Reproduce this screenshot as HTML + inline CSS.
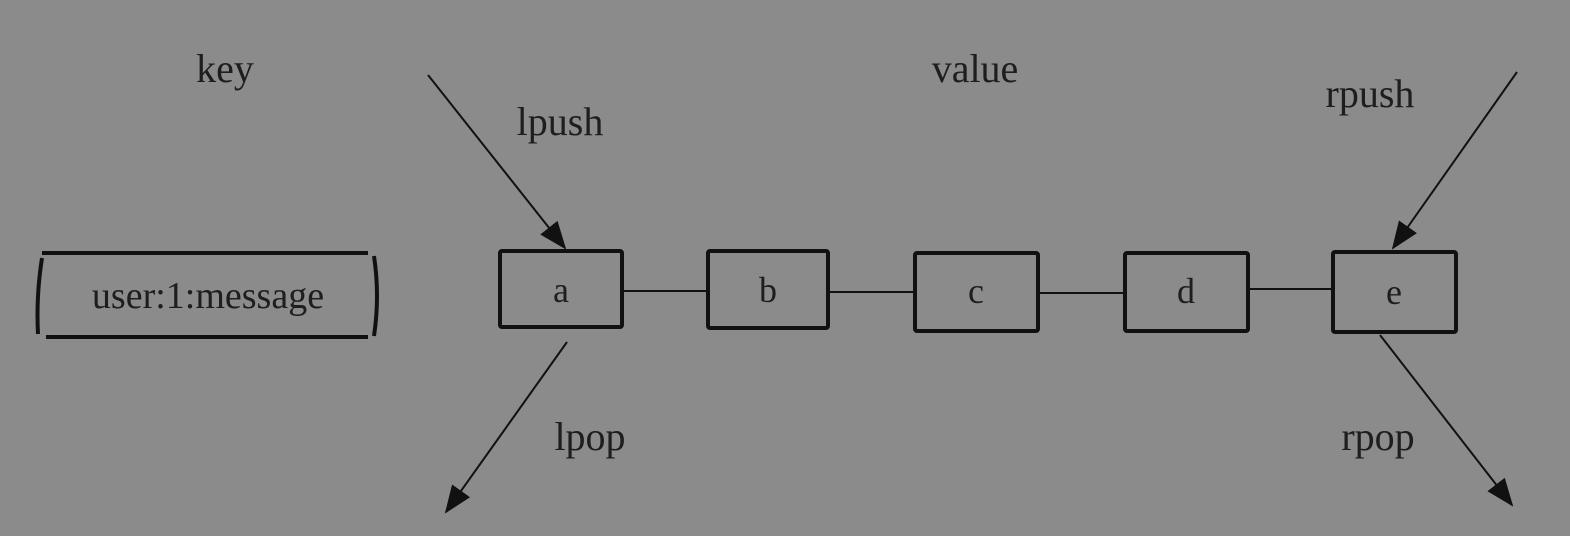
<!DOCTYPE html>
<html><head><meta charset="utf-8"><style>
html,body{margin:0;padding:0;background:#8b8b8b;}
svg{display:block;}
text{font-family:"Liberation Serif",serif;fill:#1e1e1e;}
</style></head><body>
<svg width="1570" height="536" viewBox="0 0 1570 536" xmlns="http://www.w3.org/2000/svg">
<defs>
<marker id="ah" markerWidth="28" markerHeight="22" refX="26" refY="11" orient="auto" markerUnits="userSpaceOnUse" viewBox="0 0 28 22">
<path d="M0,0 L28,11 L0,22 z" fill="#111"/>
</marker>
</defs>
<rect width="1570" height="536" fill="#8b8b8b"/>
<g stroke="#111" fill="none">
<line x1="42" y1="253" x2="368" y2="253" stroke-width="4"/>
<line x1="46" y1="337" x2="368" y2="337" stroke-width="4"/>
<path d="M42,258 Q36,296 38,334" stroke-width="4"/>
<path d="M374,256 Q380,296 374,336" stroke-width="4"/>
<rect x="500" y="251" width="122" height="76" stroke-width="4" rx="2"/>
<rect x="708" y="251" width="120" height="77" stroke-width="4" rx="2"/>
<rect x="915" y="253" width="123" height="78" stroke-width="4" rx="2"/>
<rect x="1125" y="253" width="123" height="78" stroke-width="4" rx="2"/>
<rect x="1333" y="252" width="123" height="80" stroke-width="4" rx="2"/>
<line x1="622" y1="291" x2="708" y2="291" stroke-width="2"/>
<line x1="828" y1="292" x2="915" y2="292" stroke-width="2"/>
<line x1="1038" y1="293" x2="1125" y2="293" stroke-width="2"/>
<line x1="1248" y1="289" x2="1333" y2="289" stroke-width="2"/>
<line x1="428" y1="75" x2="565" y2="248" stroke-width="2" marker-end="url(#ah)"/>
<line x1="1517" y1="72" x2="1393" y2="248" stroke-width="2" marker-end="url(#ah)"/>
<line x1="567" y1="342" x2="446" y2="512" stroke-width="2" marker-end="url(#ah)"/>
<line x1="1380" y1="335" x2="1512" y2="505" stroke-width="2" marker-end="url(#ah)"/>
</g>
<g font-size="40">
<text x="225" y="82" text-anchor="middle">key</text>
<text x="975" y="82" text-anchor="middle">value</text>
<text x="560" y="135" text-anchor="middle">lpush</text>
<text x="1370" y="107" text-anchor="middle">rpush</text>
<text x="590" y="450" text-anchor="middle">lpop</text>
<text x="1378" y="450" text-anchor="middle">rpop</text>
<text x="208" y="308" text-anchor="middle" font-size="38">user:1:message</text>
<text x="561" y="302" text-anchor="middle" font-size="36">a</text>
<text x="768" y="302" text-anchor="middle" font-size="36">b</text>
<text x="976" y="303" text-anchor="middle" font-size="36">c</text>
<text x="1186" y="303" text-anchor="middle" font-size="36">d</text>
<text x="1394" y="304" text-anchor="middle" font-size="36">e</text>
</g>
</svg>
</body></html>
